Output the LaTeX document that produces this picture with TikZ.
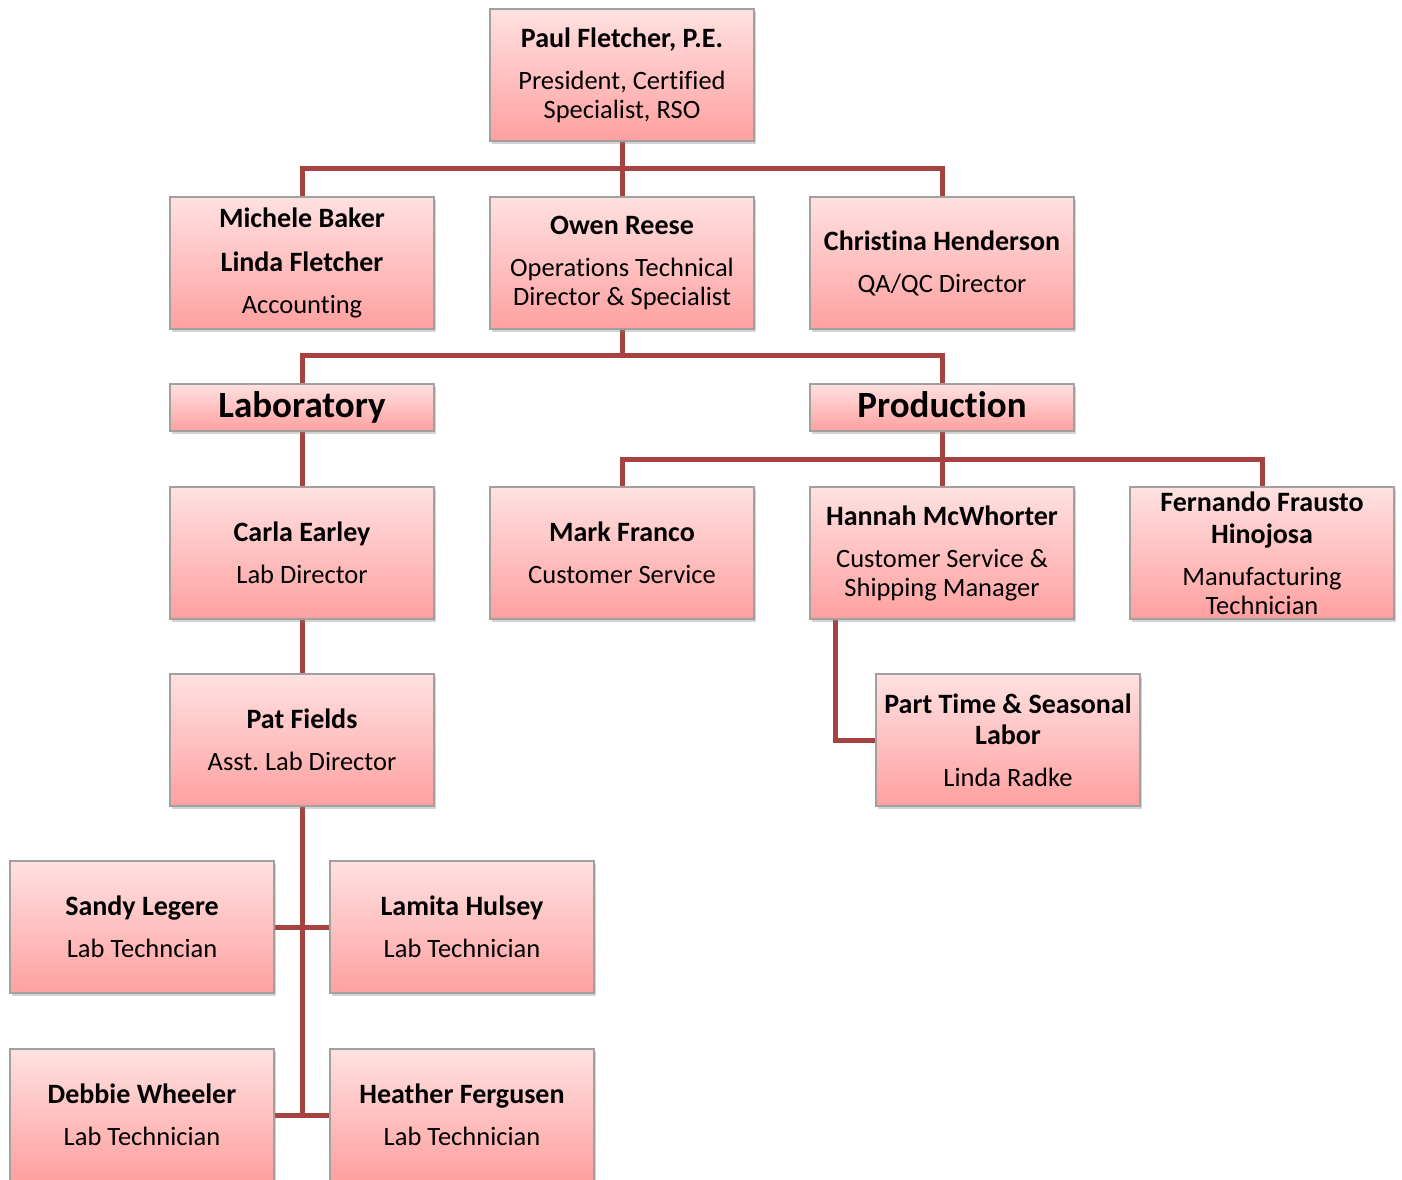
\documentclass[tikz,border=0pt]{standalone}
\usepackage{fontspec}
\setmainfont{Carlito}[Ligatures=NoCommon]
\usepackage{tikz}
\usetikzlibrary{shadows}
\usetikzlibrary{backgrounds}
\definecolor{boxtop}{RGB}{255,225,225}
\definecolor{boxbot}{RGB}{255,160,160}
\definecolor{boxline}{RGB}{160,160,160}
\definecolor{linkred}{RGB}{166,66,64}
\tikzset{
  person/.style={draw=boxline,line width=1.2pt,top color=boxtop,bottom color=boxbot,
    minimum width=264pt,minimum height=132pt,inner sep=0pt,align=center,
    font=\fontsize{26.5}{29}\selectfont\frenchspacing,
    drop shadow={shadow xshift=2pt,shadow yshift=-3pt,opacity=0.35}},
  dept/.style={person,minimum height=47pt,text height=27pt,text depth=7pt,
    font=\fontsize{37}{40}\selectfont\bfseries},
  link/.style={draw=linkred,line width=5pt}
}
\newcommand{\nm}[1]{{\fontsize{28}{32}\selectfont\bfseries #1}}
\newcommand{\who}[1]{\nm{#1}\\[13pt]}

\begin{document}
\begin{tikzpicture}[x=1pt,y=-1pt]
\useasboundingbox (0,0) rectangle (1402,1179);
\clip (0,0) rectangle (1402,1179);
  \node[person] at (622,75) (paul) {\who{Paul Fletcher, P.E.}President, Certified\\Specialist, RSO};
  \node[person] at (622,263) (owen) {\who{Owen Reese}Operations Technical\\Director \& Specialist};
  \node[person] at ([xshift=-320pt]owen) (michele) {\nm{Michele Baker}\\[15pt]\nm{Linda Fletcher}\\[13pt]Accounting};
  \node[person] at ([xshift=320pt]owen) (christina) {\who{Christina Henderson}QA/QC Director};

  \node[dept] at (302,407.5) (lab) {Laboratory};
  \node[dept] at (942,407.5) (prod) {Production};

  \node[person] at (302,553) (carla) {\who{Carla Earley}Lab Director};
  \node[person] at (622,553) (mark) {\who{Mark Franco}Customer Service};
  \node[person] at (942,553) (hannah) {\who{Hannah McWhorter}Customer Service \&\\Shipping Manager};
  \node[person] at (1262,553) (fernando) {\nm{Fernando Frausto}\\[3pt]\who{Hinojosa}Manufacturing\\Technician};

  \node[person] at (302,740) (pat) {\who{Pat Fields}Asst. Lab Director};
  \node[person] at (1008,740) (parttime) {\nm{Part Time \& Seasonal}\\[2pt]\who{Labor}Linda Radke};

  \node[person] at (142,927) (sandy) {\who{Sandy Legere}Lab Techncian};
  \node[person] at (462,927) (lamita) {\who{Lamita Hulsey}Lab Technician};
  \node[person] at (142,1115) (debbie) {\who{Debbie Wheeler}Lab Technician};
  \node[person] at (462,1115) (heather) {\who{Heather Fergusen}Lab Technician};

  \begin{scope}[on background layer]
  % top level
  \draw[link] (paul.south) -- ++(0,27) -| (michele.north);
  \draw[link] (paul.south) -- ++(0,27) -| (christina.north);
  \draw[link] (paul.south) -- (owen.north);
  % departments
  \draw[link] (owen.south) -- ++(0,26) -| (lab.north);
  \draw[link] (owen.south) -- ++(0,26) -| (prod.north);
  \draw[link] (lab.south) -- (carla.north);
  \draw[link] (carla.south) -- (pat.north);
  \draw[link] (prod.south) -- ++(0,28) -| (mark.north);
  \draw[link] (prod.south) -- ++(0,28) -| (fernando.north);
  \draw[link] (prod.south) -- (hannah.north);
  \draw[link] ([xshift=26pt]hannah.south west) |- (parttime.west);
  % lab technicians
  \draw[link] (pat.south) |- (debbie.east);
  \draw[link] (pat.south) |- (heather.west);
  \draw[link] (sandy.east) -- (lamita.west);
  \end{scope}
\end{tikzpicture}
\end{document}
